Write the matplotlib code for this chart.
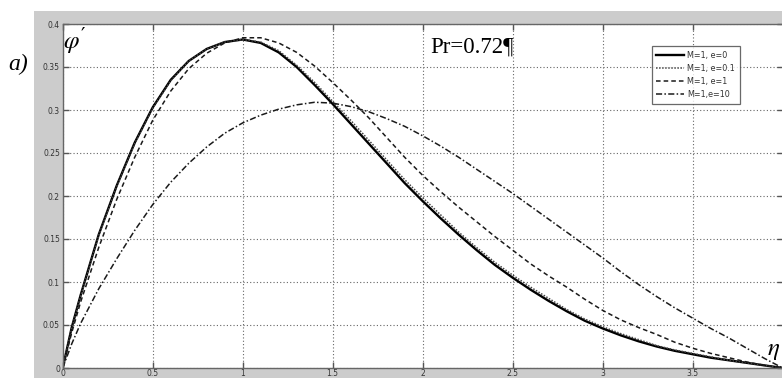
import matplotlib
matplotlib.use("Agg")
import matplotlib.pyplot as plt
from matplotlib.patches import Rectangle

eta = [0.0, 0.05, 0.1, 0.2, 0.3, 0.4, 0.5, 0.6, 0.7, 0.8, 0.9, 1.0,
       1.1, 1.2, 1.3, 1.4, 1.5, 1.6, 1.7, 1.8, 1.9, 2.0,
       2.1, 2.2, 2.3, 2.4, 2.5, 2.6, 2.7, 2.8, 2.9, 3.0,
       3.1, 3.2, 3.3, 3.4, 3.5, 3.6, 3.7, 3.8, 3.9, 4.0]

phi_e0 = [0.0, 0.047, 0.085, 0.155, 0.212, 0.262, 0.303, 0.335, 0.357, 0.371, 0.379, 0.382,
          0.378, 0.367, 0.350, 0.329, 0.307, 0.284, 0.261, 0.238, 0.215, 0.194,
          0.174, 0.155, 0.137, 0.120, 0.105, 0.091, 0.078, 0.066, 0.055, 0.046,
          0.038, 0.031, 0.025, 0.020, 0.016, 0.012, 0.009, 0.006, 0.003, 0.0]

phi_e01 = [0.0, 0.046, 0.084, 0.154, 0.211, 0.261, 0.302, 0.334, 0.357, 0.371, 0.379, 0.382,
           0.379, 0.369, 0.352, 0.332, 0.310, 0.288, 0.265, 0.242, 0.219, 0.198,
           0.178, 0.158, 0.140, 0.123, 0.108, 0.094, 0.081, 0.068, 0.057, 0.048,
           0.040, 0.033, 0.026, 0.021, 0.017, 0.013, 0.009, 0.006, 0.003, 0.0]

phi_e1 = [0.0, 0.041, 0.077, 0.140, 0.196, 0.245, 0.288, 0.322, 0.348, 0.366, 0.378, 0.384,
          0.384, 0.378, 0.367, 0.351, 0.332, 0.312, 0.291, 0.268, 0.245, 0.224,
          0.205, 0.187, 0.170, 0.153, 0.137, 0.121, 0.107, 0.094, 0.080, 0.067,
          0.056, 0.047, 0.039, 0.030, 0.023, 0.017, 0.012, 0.007, 0.003, 0.0]

phi_e10 = [0.0, 0.028, 0.052, 0.092, 0.127, 0.160, 0.190, 0.216, 0.238, 0.257, 0.273, 0.285,
           0.294, 0.301, 0.306, 0.309, 0.308, 0.304, 0.298, 0.290, 0.281, 0.270,
           0.258, 0.245, 0.231, 0.217, 0.203, 0.188, 0.173, 0.158, 0.143, 0.128,
           0.112, 0.097, 0.083, 0.070, 0.058, 0.046, 0.035, 0.023, 0.011, 0.0]

labels = ["M=1, e=0", "M=1, e=0.1", "M=1, e=1", "M=1,e=10"]
xticks = [0, 0.5, 1, 1.5, 2, 2.5, 3, 3.5]
xticklabels = ["0", "0.5", "1", "1.5", "2", "2.5", "3", "3.5"]
yticks = [0, 0.05, 0.1, 0.15, 0.2, 0.25, 0.3, 0.35, 0.4]
yticklabels = ["0", "0.05", "0.1", "0.15", "0.2", "0.25", "0.3", "0.35", "0.4"]

plt.rcParams["mathtext.fontset"] = "stix"

W, H = 782, 378
fig = plt.figure(figsize=(W / 100, H / 100), dpi=100)
fig.patch.set_facecolor("white")
fig.patches.append(Rectangle((34 / W, 0), 1 - 34 / W, (H - 11) / H,
                             transform=fig.transFigure, facecolor="#cccccc",
                             edgecolor="none", zorder=-10))

ax = fig.add_axes([62.7 / W, (H - 368) / H, 720 / W, 344 / H])
ax.set_zorder(1)
ax.set_facecolor("white")

ax.plot(eta, phi_e0, color="black", lw=1.7, ls="-", label=labels[0])
ax.plot(eta, phi_e01, color="#444444", lw=1.1, ls=(0, (1, 1)), label=labels[1])
ax.plot(eta, phi_e1, color="#1a1a1a", lw=1.1, ls=(0, (3, 2)), label=labels[2])
ax.plot(eta, phi_e10, color="#1a1a1a", lw=1.1, ls=(0, (4, 1.5, 1, 1.5)), label=labels[3])

ax.set_xlim(0, 4)
ax.set_ylim(0, 0.4)
ax.set_xticks(xticks)
ax.set_xticklabels(xticklabels)
ax.set_yticks(yticks)
ax.set_yticklabels(yticklabels)
ax.tick_params(direction="in", length=4, width=1, color="#555555",
               labelsize=5.5, labelcolor="#333333", top=True, right=True, pad=2)
ax.tick_params(axis="x", pad=1)
ax.grid(True, color="#666666", ls=(0, (1, 2)), lw=0.8)
for s in ax.spines.values():
    s.set_color("#666666")
    s.set_linewidth(1)

leg = ax.legend(loc="upper left", bbox_to_anchor=(0.818, 0.936), fontsize=5.8,
                frameon=True, fancybox=False, handlelength=3.4, handletextpad=0.4,
                labelspacing=0.5, borderpad=0.6, borderaxespad=0)
leg.get_frame().set_edgecolor("#444444")
leg.get_frame().set_linewidth(0.9)
for t in leg.get_texts():
    t.set_color("#333333")

fig.text(430 / W, 1 - 53 / H, "Pr=0.72¶", fontsize=16.5, zorder=5,
         family="Liberation Serif", color="black", va="baseline", ha="left")
fig.text(63 / W, 1 - 48 / H, r"$\varphi$", fontsize=18, ha="left", va="baseline", zorder=5)
fig.text(81 / W, 1 - 41 / H, "\u2032", fontsize=14, family="DejaVu Serif",
         ha="left", va="baseline", zorder=5)
fig.text(767 / W, 1 - 355 / H, r"$\eta$", fontsize=18, ha="left", va="baseline", zorder=5)
fig.text(8 / W, 1 - 70 / H, "a)", fontsize=17, family="Liberation Serif",
         style="italic", ha="left", va="baseline")

fig.savefig("out.png", dpi=100)
